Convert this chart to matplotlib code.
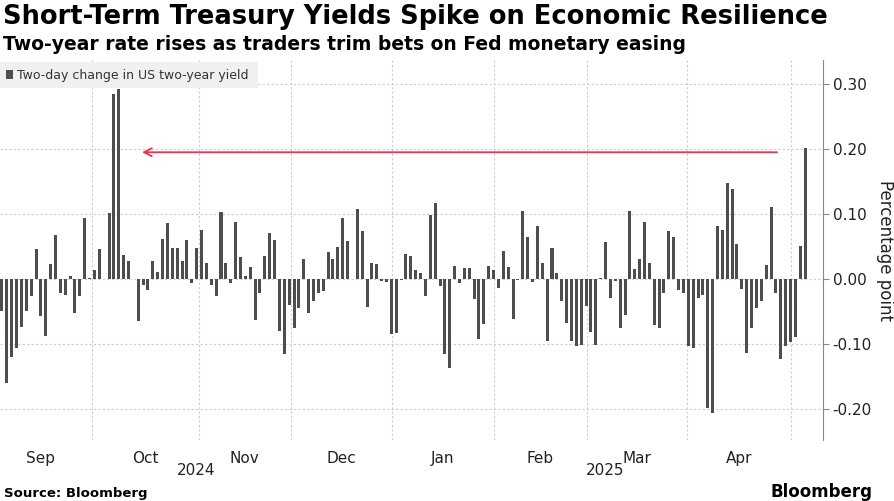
import matplotlib
matplotlib.use("Agg")
import matplotlib.pyplot as plt
from matplotlib.patches import Rectangle

values = [
 -0.050,-0.160,-0.120,-0.106,-0.074,-0.050,-0.026,0.046,-0.057,-0.088,
 0.023,0.067,-0.021,-0.025,0.005,-0.052,-0.026,0.093,0.001,0.014,
 0.046,0.000,0.102,0.284,0.293,0.037,0.028,0.000,-0.065,
 -0.009,-0.017,0.028,0.011,0.061,0.086,0.048,0.048,0.028,0.060,
 -0.007,0.047,0.075,0.024,-0.009,-0.027,0.103,0.024,-0.007,0.088,
 0.033,0.005,0.019,-0.064,-0.022,0.036,0.070,0.060,
 -0.080,-0.115,-0.040,-0.076,-0.045,0.030,-0.053,-0.034,-0.021,-0.018,
 0.041,0.030,0.049,0.093,0.059,0.000,0.107,0.073,-0.043,0.024,
 0.023,-0.003,-0.004,-0.085,-0.083,-0.001,0.038,0.036,
 0.014,0.009,-0.026,0.098,0.117,-0.011,-0.115,-0.137,0.020,-0.007,
 0.017,0.017,-0.031,-0.093,-0.070,0.020,0.014,-0.014,0.043,0.018,
 -0.061,-0.001,0.104,0.064,-0.004,0.081,0.024,
 -0.095,0.048,0.009,-0.034,-0.068,-0.095,-0.103,-0.102,-0.041,-0.082,
 -0.101,0.002,0.057,-0.030,-0.003,-0.075,-0.055,0.104,0.015,0.030,
 0.088,0.024,-0.071,-0.075,-0.022,0.074,0.065,-0.017,
 -0.021,-0.104,-0.106,-0.030,-0.025,-0.199,-0.206,0.082,0.076,0.147,
 0.138,0.054,-0.016,-0.114,-0.075,-0.045,-0.034,0.022,0.111,-0.021,
 -0.123,-0.104,-0.097,-0.090,0.050,0.201,
]
month_labels = ["Sep","Oct","Nov","Dec","Jan","Feb","Mar","Apr"]
month_starts = [-2.5, 18.4, 40.4, 59.4, 80.2, 101.0, 120.2, 140.8, 162.0]
year_labels = ["2024","2025"]
yticks = [-0.2,-0.1,0.0,0.1,0.2,0.3]
ytick_labels = ["-0.20","-0.10","0.00","0.10","0.20","0.30"]

fig = plt.figure(figsize=(8.94,5.01), dpi=100)
W,H = 894,501
ax = fig.add_axes([0/W, 1-440/H, 823/W, 380/H])
x = list(range(len(values)))
ax.bar(x, values, width=0.62, color="#4d4d4d", zorder=3)
ax.set_xlim(-0.4, len(values)-1+(823-805)/4.9)
ax.set_ylim(-0.248, 0.337)
for s in ["top","left","bottom"]:
    ax.spines[s].set_visible(False)
ax.spines["right"].set_color("#888888")
ax.yaxis.tick_right()
ax.set_yticks(yticks)
ax.set_yticklabels(ytick_labels, fontsize=11, color="#222222")
ax.tick_params(axis="y", length=4, color="#888888", pad=3)
ax.grid(axis="y", linestyle=(0,(2,2)), color="#cccccc", lw=0.8, zorder=0)
for m in month_starts[1:]:
    ax.axvline(m, linestyle=(0,(2,2)), color="#cccccc", lw=0.8, zorder=0)
mid = [(month_starts[i]+month_starts[i+1])/2 for i in range(len(month_labels))]
ax.set_xticks(mid)
ax.set_xticklabels(month_labels, fontsize=11, color="#222222")
ax.tick_params(axis="x", length=0, pad=8)
ax.text(39.8, -0.295, year_labels[0], ha="center", va="center", fontsize=11, color="#222222")
ax.text(124.0, -0.295, year_labels[1], ha="center", va="center", fontsize=11, color="#222222")
ax.set_ylabel("Percentage point", rotation=270, fontsize=12, labelpad=16, color="#222222")
ax.yaxis.set_label_position("right")
ax.annotate("", xy=(28.2, 0.195), xytext=(159.8, 0.195),
            arrowprops=dict(arrowstyle="->", color="#e8344e", lw=1.3, mutation_scale=14), zorder=4)

fig.patches.append(Rectangle((0, 1-88/H), 258/W, 26/H, transform=fig.transFigure,
                             facecolor="#f0f0f0", edgecolor="none", zorder=5))
fig.patches.append(Rectangle((6/W, 1-79/H), 7/W, 9/H, transform=fig.transFigure,
                             facecolor="#4d4d4d", edgecolor="none", zorder=6))
fig.text(17/W, 1-75/H, "Two-day change in US two-year yield", fontsize=9, va="center", color="#333333", zorder=7)

fig.text(3/W, 1-17/H, "Short-Term Treasury Yields Spike on Economic Resilience", fontsize=18.5, fontweight="bold", va="center")
fig.text(3/W, 1-44/H, "Two-year rate rises as traders trim bets on Fed monetary easing", fontsize=13.5, fontweight="bold", va="center")
fig.text(4/W, 1-493/H, "Source: Bloomberg", fontsize=9.5, fontweight="bold", va="center")
fig.text(872/W, 1-492/H, "Bloomberg", fontsize=12, fontweight="bold", va="center", ha="right")
fig.savefig("out.png", dpi=100)
